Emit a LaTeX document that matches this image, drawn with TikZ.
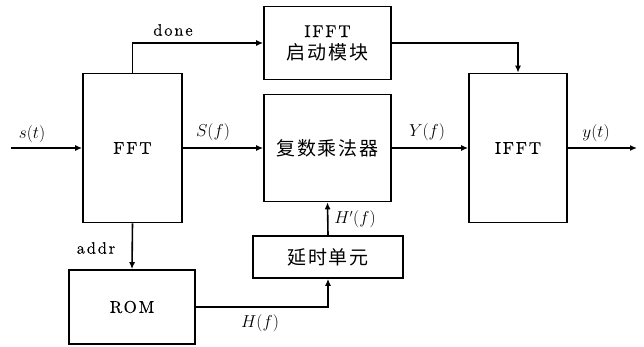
\documentclass[tikz,border=0pt]{standalone}
\usepackage{fontspec}
\newfontfamily\cjk{Noto Sans CJK SC}[LetterSpace=10]
\newfontfamily\lmsp{lmroman10-regular.otf}[LetterSpace=11,FakeBold=0.2]
\usetikzlibrary{arrows.meta}
\begin{document}
\begin{tikzpicture}[x=1pt,y=-1pt,
  blk/.style={draw,line width=1.6pt,inner sep=0pt,align=center,font=\lmsp\fontsize{17}{22}\selectfont},
  conn/.style={line width=1.6pt,-{Latex[length=7pt,width=6pt]}},
  lbl/.style={font=\lmsp\fontsize{16.5}{18}\selectfont},
  mlbl/.style={font=\fontsize{16}{18}\selectfont}]
\useasboundingbox (0,0) rectangle (644,347);
\node[blk,minimum width=99pt,minimum height=149pt] (fft) at (132.5,148) {FFT};
\node[blk,minimum width=127pt,minimum height=73pt] (start) at (327.5,43) {IFFT\\{\fontsize{19}{22}\cjk 启动模块}};
\node[blk,minimum width=127pt,minimum height=107pt] (mul) at (327.5,148) {\fontsize{19}{22}\cjk 复数乘法器};
\node[blk,minimum width=98pt,minimum height=149pt] (ifft) at (518,148) {IFFT};
\node[blk,minimum width=150pt,minimum height=42pt] (delay) at (328,257) {\fontsize{19}{22}\cjk 延时单元};
\node[blk,minimum width=126pt,minimum height=74pt] (rom) at (132,307) {ROM};
\coordinate (in) at (11,148);
\coordinate (out) at (637,148);
\draw[conn] (in) -- (fft.west);
\draw[conn] (fft.north) |- (start.west);
\draw[conn] (fft.east) -- (mul.west);
\draw[conn] (start.east) -| (ifft.north);
\draw[conn] (mul.east) -- (ifft.west);
\draw[conn] (ifft.east) -- (out);
\draw[conn] (fft.south) -- (rom.north);
\draw[conn] (rom.east) -| (delay.south);
\draw[conn] (delay.north) -- (mul.south);
\node[mlbl] (ls) at (32,134) {$s(t)$};
\node[lbl] (ld) at (173,30) {done};
\node[mlbl] (lS) at (213,132) {$S(f)$};
\node[mlbl] (lY) at (427,132) {$Y(f)$};
\node[mlbl] (ly) at (596,133) {$y(t)$};
\node[lbl] (la) at (96,248) {addr};
\node[mlbl] (lH) at (260,323) {$H(f)$};
\node[mlbl] (lHp) at (355,219) {$H'(f)$};
\end{tikzpicture}
\end{document}
